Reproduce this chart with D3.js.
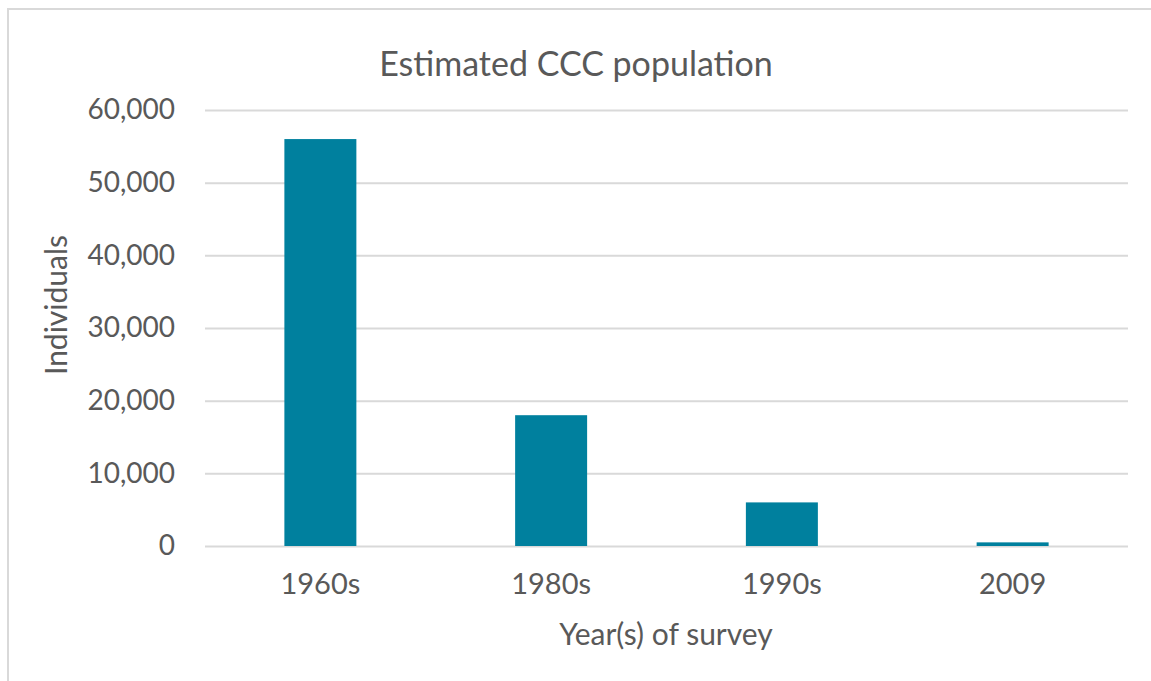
<!DOCTYPE html>
<html>
<head>
<meta charset="utf-8">
<script src="https://cdn.jsdelivr.net/npm/d3@7/dist/d3.min.js"></script>
<style>
  html, body { margin: 0; padding: 0; background: #fff; }
  svg { display: block; }
  text { font-family: Lato, "Open Sans", sans-serif; fill: #595959; }
</style>
</head>
<body>
<svg id="chart" width="1151" height="681"></svg>
<script>
// Survey periods and estimated population counts
const categories = ["1960s", "1980s", "1990s", "2009"];
const individuals = [56000, 18000, 6000, 500];
const yTicks = [0, 10000, 20000, 30000, 40000, 50000, 60000];

const title = "Estimated CCC population";
const xTitle = "Year(s) of survey";
const yTitle = "Individuals";

const svg = d3.select("#chart");
const W = 1151, H = 681;
const plot = { left: 205, right: 1128, top: 110, bottom: 546 };

// Outer chart frame
svg.append("rect")
  .attr("x", 8).attr("y", 9)
  .attr("width", W + 10).attr("height", H + 10)
  .attr("fill", "#fff")
  .attr("stroke", "#d9d9d9").attr("stroke-width", 2);

const x = d3.scaleBand()
  .domain(categories)
  .range([plot.left, plot.right])
  .paddingInner(0.688)
  .paddingOuter(0.344);

const y = d3.scaleLinear()
  .domain([0, 60000])
  .range([plot.bottom, plot.top]);

// Horizontal gridlines with value labels
const yAxis = d3.axisLeft(y)
  .tickValues(yTicks)
  .tickFormat(d3.format(","))
  .tickSize(-(plot.right - plot.left))
  .tickPadding(30);

const gy = svg.append("g")
  .attr("transform", `translate(${plot.left},0)`)
  .call(yAxis);
gy.select(".domain").remove();
gy.selectAll(".tick line").attr("stroke", "#d9d9d9").attr("stroke-width", 2);
gy.selectAll(".tick text")
  .style("font-size", "28px")
  .attr("fill", "#595959");

// Bars
svg.append("g").selectAll("rect")
  .data(categories.map((c, i) => ({ c, v: individuals[i] })))
  .join("rect")
  .attr("x", d => x(d.c))
  .attr("y", d => y(d.v))
  .attr("width", x.bandwidth())
  .attr("height", d => y(0) - y(d.v))
  .attr("fill", "#00809e");

// Category labels
const xAxis = d3.axisBottom(x).tickSize(0).tickPadding(27);
const gx = svg.append("g")
  .attr("transform", `translate(0,${plot.bottom})`)
  .call(xAxis);
gx.select(".domain").remove();
gx.selectAll(".tick text")
  .style("font-size", "29px")
  .attr("fill", "#595959");

// Titles
svg.append("text")
  .attr("x", 576).attr("y", 76)
  .attr("text-anchor", "middle")
  .style("font-size", "34px")
  .text(title);

svg.append("text")
  .attr("x", 666).attr("y", 645)
  .attr("text-anchor", "middle")
  .style("font-size", "30px")
  .text(xTitle);

svg.append("text")
  .attr("transform", "translate(67,305) rotate(-90)")
  .attr("text-anchor", "middle")
  .style("font-size", "30px")
  .text(yTitle);
</script>
</body>
</html>
